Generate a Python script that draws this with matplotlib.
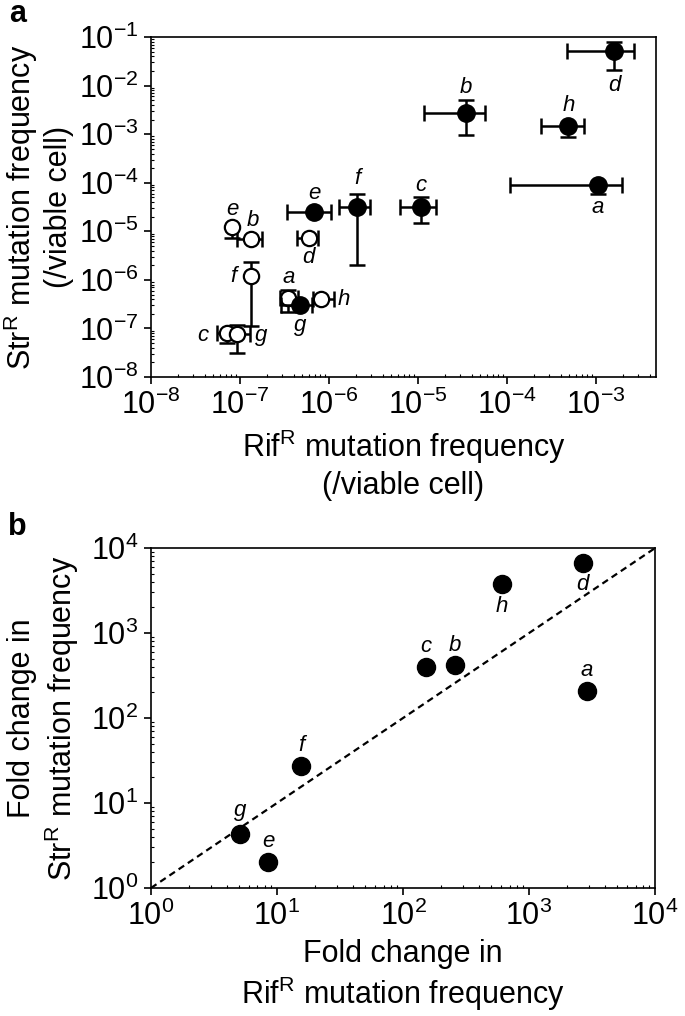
import numpy as np
import matplotlib
matplotlib.use('Agg')
import matplotlib.pyplot as plt
from matplotlib.ticker import LogLocator, NullFormatter

plt.rcParams['font.family'] = ['Liberation Sans', 'DejaVu Sans']
plt.rcParams['mathtext.default'] = 'regular'

strains = ['a', 'b', 'c', 'd', 'e', 'f', 'g', 'h']

# panel a, filled circles
rif_on = [1.06e-3, 3.47e-5, 1.07e-5, 1.6e-3, 6.8e-7, 2.08e-6, 4.7e-7, 4.9e-4]
rif_on_lo = [1.07e-4, 1.17e-5, 6.3e-6, 4.7e-4, 3.4e-7, 1.29e-6, 2.9e-7, 2.4e-4]
rif_on_hi = [1.95e-3, 5.7e-5, 1.59e-5, 2.7e-3, 1.04e-6, 2.86e-6, 6.5e-7, 7.4e-4]
str_on = [8.9e-5, 2.74e-3, 3.1e-5, 5.1e-2, 2.5e-5, 3.2e-5, 3.1e-7, 1.5e-3]
str_on_lo = [6.0e-5, 9.5e-4, 1.5e-5, 2.07e-2, 2.5e-5, 2.0e-6, 3.1e-7, 8.7e-4]
str_on_hi = [8.9e-5, 5.0e-3, 5.0e-5, 7.9e-2, 2.5e-5, 6.0e-5, 3.1e-7, 1.5e-3]

# panel a, open circles
rif_off = [3.5e-7, 1.34e-7, 7.2e-8, 5.9e-7, 8.2e-8, 1.33e-7, 9.2e-8, 8.2e-7]
rif_off_lo = [2.8e-7, 9.2e-8, 5.5e-8, 4.4e-7, 8.2e-8, 1.33e-7, 9.2e-8, 6.6e-7]
rif_off_hi = [4.5e-7, 1.76e-7, 7.2e-8, 7.6e-7, 8.2e-8, 1.33e-7, 1.3e-7, 1.15e-6]
str_off = [4.3e-7, 6.9e-6, 7.9e-8, 7.4e-6, 1.2e-5, 1.21e-6, 7.8e-8, 4.1e-7]
str_off_lo = [2.2e-7, 6.9e-6, 5.1e-8, 7.4e-6, 7.2e-6, 1.14e-7, 3.2e-8, 4.1e-7]
str_off_hi = [6.2e-7, 6.9e-6, 7.9e-8, 7.4e-6, 1.2e-5, 2.3e-6, 1.2e-7, 4.1e-7]

# panel b
fold_rif = [2880, 256, 152, 2660, 8.5, 15.5, 5.1, 606]
fold_str = [208, 416, 398, 6660, 2.02, 27, 4.28, 3805]

# label offsets in pixels (dx, dy), dy > 0 is down
off_on = [(-1, 22), (0, -25), (0, -22), (0, 34), (0, -19), (0, -28), (0, 21), (0, -20)]
off_off = [(0, -20), (2, -19), (-24, 2), (0, 20), (0, -18), (-18, 1), (24, 2), (22, 1)]
off_b = [(0, -20), (0, -20), (0, -21), (0, 21), (0, -21), (0, -21), (0, -24), (0, 23)]

TICK_FS = 22
LABEL_FS = 22
LETTER_FS = 16


def asym(v, lo, hi):
    v = np.array(v)
    return np.array([v - np.array(lo), np.array(hi) - v])


def style_axes(ax):
    ax.set_xscale('log')
    ax.set_yscale('log')
    for s in ax.spines.values():
        s.set_linewidth(1.2)
    for axis in (ax.xaxis, ax.yaxis):
        axis.set_major_locator(LogLocator(base=10, numticks=20))
        axis.set_minor_locator(LogLocator(base=10, subs=np.arange(2, 10), numticks=20))
        axis.set_minor_formatter(NullFormatter())
    ax.tick_params(which='major', direction='out', length=5, width=1.2, labelsize=TICK_FS, pad=4)
    ax.tick_params(which='minor', direction='in', length=2.5, width=0.8)


def put_labels(ax, xs, ys, offs):
    for name, x, y, (dx, dy) in zip(strains, xs, ys, offs):
        ax.annotate(name, (x, y), xytext=(dx, -dy), textcoords='offset pixels',
                    ha='center', va='center', fontsize=LETTER_FS, style='italic')


fig = plt.figure(figsize=(6.85, 10.16), dpi=100)
ax1 = fig.add_axes([0.2204, 0.6289, 0.737, 0.3346])
ax2 = fig.add_axes([0.2204, 0.1260, 0.736, 0.3346])

# panel a
ebk = dict(fmt='none', ecolor='black', elinewidth=1.8, capsize=6, capthick=1.8)
ax1.errorbar(rif_off, str_off, xerr=asym(rif_off, rif_off_lo, rif_off_hi),
             yerr=asym(str_off, str_off_lo, str_off_hi), zorder=2, **ebk)
ax1.plot(rif_off, str_off, 'o', ms=11, mfc='white', mec='black', mew=1.6, ls='none', zorder=3)
ax1.errorbar(rif_on, str_on, xerr=asym(rif_on, rif_on_lo, rif_on_hi),
             yerr=asym(str_on, str_on_lo, str_on_hi), zorder=4, **ebk)
ax1.plot(rif_on, str_on, 'o', ms=12.5, mfc='black', mec='black', ls='none', zorder=5)
put_labels(ax1, rif_on, str_on, off_on)
put_labels(ax1, rif_off, str_off, off_off)

style_axes(ax1)
ax1.set_xlim(1e-8, 4.7e-3)
ax1.set_ylim(1e-8, 1e-1)
ax1.set_xlabel('Rif$^{R}$ mutation frequency\n(/viable cell)', fontsize=LABEL_FS, labelpad=5)
ax1.set_ylabel('Str$^{R}$ mutation frequency\n(/viable cell)', fontsize=LABEL_FS, labelpad=3)

# panel b
ax2.plot([1, 1e4], [1, 1e4], ls=(0, (3, 2)), color='black', lw=1.6, zorder=2)
ax2.plot(fold_rif, fold_str, 'o', ms=13, color='black', ls='none', zorder=3)
put_labels(ax2, fold_rif, fold_str, off_b)

style_axes(ax2)
ax2.set_xlim(1, 1e4)
ax2.set_ylim(1, 1e4)
ax2.set_xlabel('Fold change in\nRif$^{R}$ mutation frequency', fontsize=LABEL_FS, labelpad=5)
ax2.set_ylabel('Fold change in\nStr$^{R}$ mutation frequency', fontsize=LABEL_FS, labelpad=7)

fig.text(0.025, 0.986, 'a', fontsize=22, fontweight='bold', ha='center', va='center')
fig.text(0.025, 0.481, 'b', fontsize=22, fontweight='bold', ha='center', va='center')

fig.savefig('out.png', dpi=100)
